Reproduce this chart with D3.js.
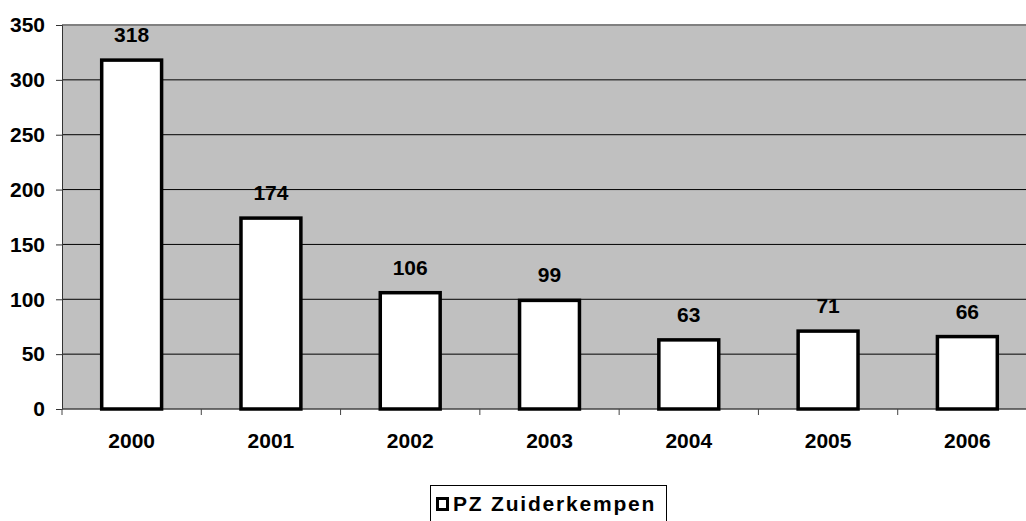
<!DOCTYPE html>
<html>
<head>
<meta charset="utf-8">
<script src="https://cdn.jsdelivr.net/npm/d3@7"></script>
<style>
  body { margin: 0; background: #fff; }
  text { font-family: "Liberation Sans", Arial, sans-serif; font-weight: bold; }
</style>
</head>
<body>
<div id="chart"></div>
<script>
// data
const years = ["2000", "2001", "2002", "2003", "2004", "2005", "2006"];
const counts = [318, 174, 106, 99, 63, 71, 66];
const yTicks = [0, 50, 100, 150, 200, 250, 300, 350];
const seriesName = "PZ Zuiderkempen";

const W = 1026, H = 521;
// plot area (right side runs past the window like in the original)
const plot = {left: 62, top: 25, right: 1037, bottom: 409};

const svg = d3.select("#chart").append("svg")
  .attr("width", W)
  .attr("height", H);

const x = d3.scaleBand()
  .domain(years)
  .range([plot.left, plot.right])
  .padding(0);

const y = d3.scaleLinear()
  .domain([0, 350])
  .range([plot.bottom, plot.top]);

// grey plot background
svg.append("rect")
  .attr("x", plot.left)
  .attr("y", plot.top)
  .attr("width", plot.right - plot.left)
  .attr("height", plot.bottom - plot.top)
  .attr("fill", "#c0c0c0");

// gridlines
svg.append("g")
  .selectAll("line")
  .data(yTicks.filter(function(d) { return d > 0 && d < 350; }))
  .enter()
  .append("line")
    .attr("x1", plot.left)
    .attr("x2", plot.right)
    .attr("y1", function(d) { return y(d); })
    .attr("y2", function(d) { return y(d); })
    .attr("stroke", "#000")
    .attr("stroke-width", 1);

// top border
svg.append("line")
  .attr("x1", plot.left).attr("x2", plot.right)
  .attr("y1", y(350)).attr("y2", y(350))
  .attr("stroke", "#808080")
  .attr("stroke-width", 2);

// Y axis
const yAxis = svg.append("g")
  .attr("transform", "translate(" + plot.left + ",0)")
  .call(d3.axisLeft(y).tickValues(yTicks).tickSize(6).tickPadding(11));
yAxis.select(".domain").attr("stroke", "#333");
yAxis.selectAll(".tick line").attr("stroke", "#333");
yAxis.selectAll("text")
  .attr("fill", "#000")
  .style("font-size", "21px");

// X axis line with ticks at category boundaries
svg.append("line")
  .attr("x1", plot.left).attr("x2", plot.right)
  .attr("y1", plot.bottom).attr("y2", plot.bottom)
  .attr("stroke", "#444")
  .attr("stroke-width", 1.5);

svg.append("g")
  .selectAll("line")
  .data(years)
  .enter()
  .append("line")
    .attr("x1", function(d) { return x(d); })
    .attr("x2", function(d) { return x(d); })
    .attr("y1", plot.bottom)
    .attr("y2", plot.bottom + 6)
    .attr("stroke", "#444");

// category labels
svg.append("g")
  .selectAll("text")
  .data(years)
  .enter()
  .append("text")
    .attr("x", function(d) { return x(d) + x.bandwidth() / 2; })
    .attr("y", 448)
    .attr("text-anchor", "middle")
    .style("font-size", "21px")
    .text(function(d) { return d; });

// bars
const barW = x.bandwidth() * 0.43;
svg.append("g")
  .selectAll("rect")
  .data(counts)
  .enter()
  .append("rect")
    .attr("x", function(d, i) { return x(years[i]) + (x.bandwidth() - barW) / 2; })
    .attr("y", function(d) { return y(d); })
    .attr("width", barW)
    .attr("height", function(d) { return y(0) - y(d); })
    .attr("fill", "#fff")
    .attr("stroke", "#000")
    .attr("stroke-width", 3.5);

// value labels
svg.append("g")
  .selectAll("text")
  .data(counts)
  .enter()
  .append("text")
    .attr("x", function(d, i) { return x(years[i]) + x.bandwidth() / 2; })
    .attr("y", function(d) { return y(d) - 18; })
    .attr("text-anchor", "middle")
    .style("font-size", "21px")
    .text(function(d) { return d; });

// legend
const legend = svg.append("g");
legend.append("rect")
  .attr("x", 430.5).attr("y", 485.5)
  .attr("width", 236).attr("height", 44)
  .attr("fill", "#fff")
  .attr("stroke", "#000")
  .attr("stroke-width", 1);
legend.append("rect")
  .attr("x", 437.5).attr("y", 498.5)
  .attr("width", 10).attr("height", 11)
  .attr("fill", "#fff")
  .attr("stroke", "#000")
  .attr("stroke-width", 3);
legend.append("text")
  .attr("x", 453)
  .attr("y", 511)
  .style("font-size", "21px")
  .style("letter-spacing", "1.8px")
  .text(seriesName);
</script>
</body>
</html>
